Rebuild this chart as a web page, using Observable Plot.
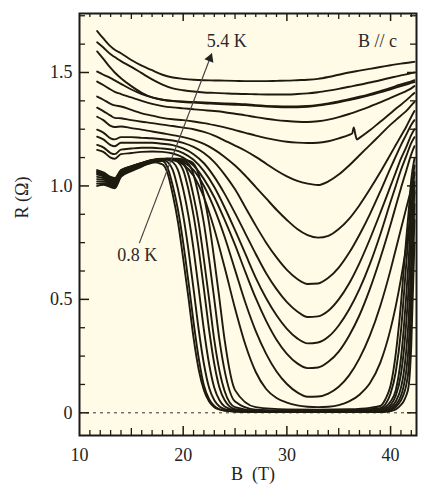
<!DOCTYPE html>
<html><head><meta charset="utf-8">
<script src="https://cdn.jsdelivr.net/npm/d3@7"></script>
<script src="https://cdn.jsdelivr.net/npm/@observablehq/plot@0.6"></script>
<style>
html,body{margin:0;padding:0;background:#fff;}
#chart{width:422px;height:484px;overflow:hidden;}
</style></head><body><div id="chart"></div>
<script>
// ---- data: R (ohm) vs B (tesla), curves from 5.4 K (top) down to 0.8 K ----
const B_upper = [11.7, 12.3, 13.0, 13.4, 14, 15, 16, 17, 18, 19, 20, 21, 22, 23, 24, 25, 26, 27, 28, 29, 30, 31, 32, 33, 34, 35, 36, 37, 38, 39, 40, 40.5, 41, 41.5, 42, 42.3];
const r_t01 = [1.683, 1.650, 1.615, 1.600, 1.585, 1.555, 1.530, 1.510, 1.490, 1.478, 1.472, 1.468, 1.466, 1.465, 1.464, 1.463, 1.462, 1.462, 1.462, 1.463, 1.464, 1.466, 1.468, 1.472, 1.480, 1.490, 1.500, 1.508, 1.516, 1.524, 1.532, 1.536, 1.539, 1.542, 1.545, 1.547];
const r_t02 = [1.633, 1.610, 1.580, 1.568, 1.550, 1.525, 1.497, 1.470, 1.447, 1.430, 1.422, 1.416, 1.412, 1.410, 1.408, 1.406, 1.405, 1.404, 1.403, 1.403, 1.403, 1.405, 1.408, 1.413, 1.420, 1.428, 1.437, 1.446, 1.456, 1.466, 1.477, 1.482, 1.487, 1.492, 1.497, 1.500];
const r_t03 = [1.593, 1.560, 1.520, 1.500, 1.475, 1.440, 1.410, 1.390, 1.380, 1.375, 1.372, 1.370, 1.368, 1.366, 1.364, 1.362, 1.360, 1.356, 1.353, 1.351, 1.350, 1.350, 1.352, 1.357, 1.364, 1.372, 1.382, 1.393, 1.405, 1.418, 1.432, 1.440, 1.447, 1.454, 1.461, 1.466];
const r_t04 = [1.504, 1.490, 1.475, 1.465, 1.450, 1.425, 1.405, 1.390, 1.380, 1.374, 1.370, 1.367, 1.364, 1.362, 1.360, 1.358, 1.356, 1.353, 1.350, 1.348, 1.347, 1.347, 1.349, 1.354, 1.361, 1.369, 1.378, 1.388, 1.400, 1.412, 1.426, 1.433, 1.440, 1.447, 1.454, 1.458];
const r_t05 = [1.460, 1.445, 1.425, 1.415, 1.405, 1.390, 1.375, 1.362, 1.352, 1.346, 1.342, 1.338, 1.334, 1.330, 1.325, 1.318, 1.311, 1.303, 1.296, 1.290, 1.286, 1.283, 1.282, 1.285, 1.292, 1.303, 1.317, 1.333, 1.350, 1.368, 1.388, 1.398, 1.408, 1.418, 1.430, 1.440];
const r_t07 = [1.345, 1.330, 1.310, 1.300, 1.298, 1.290, 1.283, 1.277, 1.270, 1.264, 1.257, 1.250, 1.238, 1.222, 1.200, 1.178, 1.155, 1.128, 1.098, 1.068, 1.042, 1.022, 1.010, 1.004, 1.020, 1.050, 1.090, 1.135, 1.180, 1.225, 1.270, 1.290, 1.310, 1.330, 1.355, 1.370];
const r_t08 = [1.305, 1.290, 1.265, 1.260, 1.262, 1.255, 1.248, 1.240, 1.232, 1.224, 1.215, 1.203, 1.185, 1.160, 1.128, 1.090, 1.045, 0.995, 0.945, 0.895, 0.850, 0.810, 0.783, 0.772, 0.780, 0.810, 0.855, 0.915, 0.985, 1.060, 1.140, 1.180, 1.220, 1.260, 1.305, 1.330];
const r_t09 = [1.248, 1.235, 1.210, 1.205, 1.215, 1.215, 1.212, 1.210, 1.206, 1.200, 1.190, 1.172, 1.145, 1.105, 1.050, 0.985, 0.905, 0.825, 0.750, 0.685, 0.630, 0.590, 0.568, 0.570, 0.595, 0.640, 0.705, 0.785, 0.875, 0.975, 1.080, 1.130, 1.180, 1.225, 1.270, 1.290];
const r_t10 = [1.217, 1.205, 1.180, 1.175, 1.190, 1.190, 1.190, 1.190, 1.186, 1.180, 1.165, 1.140, 1.100, 1.040, 0.965, 0.880, 0.790, 0.700, 0.615, 0.545, 0.488, 0.447, 0.422, 0.425, 0.450, 0.500, 0.570, 0.660, 0.765, 0.880, 1.000, 1.060, 1.120, 1.170, 1.225, 1.250];
const r_t11 = [1.181, 1.170, 1.145, 1.140, 1.160, 1.165, 1.168, 1.168, 1.165, 1.160, 1.145, 1.115, 1.065, 0.995, 0.905, 0.805, 0.700, 0.595, 0.505, 0.430, 0.370, 0.328, 0.306, 0.310, 0.335, 0.385, 0.455, 0.545, 0.655, 0.785, 0.930, 1.000, 1.070, 1.130, 1.190, 1.215];
const r_t12 = [1.159, 1.150, 1.125, 1.120, 1.140, 1.145, 1.150, 1.152, 1.150, 1.143, 1.125, 1.090, 1.030, 0.950, 0.850, 0.740, 0.620, 0.505, 0.405, 0.322, 0.260, 0.218, 0.197, 0.200, 0.225, 0.270, 0.340, 0.430, 0.545, 0.680, 0.830, 0.910, 0.990, 1.065, 1.140, 1.175];
const r_t13 = [1.070, 1.060, 1.040, 1.035, 1.070, 1.087, 1.102, 1.115, 1.120, 1.118, 1.105, 1.070, 1.000, 0.900, 0.775, 0.630, 0.485, 0.360, 0.260, 0.182, 0.127, 0.090, 0.071, 0.072, 0.085, 0.115, 0.165, 0.240, 0.340, 0.470, 0.630, 0.720, 0.810, 0.900, 0.990, 1.050];
const r_t14 = [1.065, 1.057, 1.035, 1.030, 1.068, 1.086, 1.101, 1.114, 1.118, 1.115, 1.095, 1.045, 0.950, 0.810, 0.640, 0.460, 0.300, 0.180, 0.105, 0.065, 0.045, 0.033, 0.027, 0.025, 0.027, 0.034, 0.050, 0.080, 0.130, 0.220, 0.370, 0.470, 0.590, 0.730, 0.880, 0.970];

// curve with the glitch near 36.5 T
const B_spike = [11.7, 12.3, 13.0, 13.4, 14, 15, 16, 17, 18, 19, 20, 21, 22, 23, 24, 25, 26, 27, 28, 29, 30, 31, 32, 33, 34, 35, 36, 36.3, 36.45, 36.6, 36.75, 37, 38, 39, 40, 40.5, 41, 41.5, 42, 42.3];
const r_t06 = [1.394, 1.380, 1.362, 1.355, 1.350, 1.335, 1.320, 1.310, 1.300, 1.294, 1.290, 1.284, 1.277, 1.268, 1.258, 1.246, 1.234, 1.222, 1.211, 1.202, 1.195, 1.191, 1.189, 1.190, 1.197, 1.210, 1.225, 1.232, 1.258, 1.228, 1.205, 1.212, 1.245, 1.283, 1.320, 1.340, 1.358, 1.377, 1.398, 1.410];

// lowest-temperature curves (zero resistance region)
const B_lower = [11.7, 12.3, 13.0, 13.4, 14, 15, 16, 17, 18, 18.5, 19, 19.5, 20, 20.5, 21, 21.5, 22, 22.5, 23, 23.5, 24, 25, 27, 30, 33, 36, 38, 39, 39.5, 40, 40.5, 41, 41.25, 41.5, 41.75, 42, 42.3];
const r_l01 = [1.00, 1.005, 0.995, 0.99, 1.04, 1.065, 1.085, 1.105, 1.095, 1.055, 0.96, 0.84, 0.68, 0.51, 0.33, 0.19, 0.10, 0.05, 0.025, 0.015, 0.01, 0.006, 0.004, 0.003, 0.003, 0.003, 0.003, 0.003, 0.004, 0.008, 0.015, 0.035, 0.05, 0.075, 0.12, 0.30, 0.75];
const r_l02 = [1.01, 1.012, 1.0, 0.995, 1.045, 1.068, 1.087, 1.102, 1.11, 1.08, 1.0, 0.894, 0.75, 0.58, 0.40, 0.24, 0.12, 0.06, 0.03, 0.015, 0.01, 0.006, 0.004, 0.003, 0.003, 0.004, 0.004, 0.004, 0.006, 0.012, 0.025, 0.055, 0.08, 0.12, 0.20, 0.42, 0.85];
const r_l03 = [1.02, 1.02, 1.005, 1.0, 1.05, 1.07, 1.09, 1.104, 1.115, 1.105, 1.07, 0.985, 0.87, 0.72, 0.545, 0.365, 0.215, 0.11, 0.055, 0.028, 0.016, 0.008, 0.005, 0.004, 0.004, 0.005, 0.005, 0.005, 0.008, 0.017, 0.035, 0.075, 0.115, 0.18, 0.30, 0.55, 0.92];
const r_l04 = [1.03, 1.028, 1.01, 1.005, 1.053, 1.073, 1.092, 1.106, 1.118, 1.115, 1.105, 1.07, 0.985, 0.87, 0.72, 0.545, 0.365, 0.215, 0.11, 0.055, 0.028, 0.012, 0.006, 0.005, 0.005, 0.006, 0.007, 0.007, 0.012, 0.025, 0.05, 0.11, 0.17, 0.27, 0.42, 0.67, 0.98];
const r_l05 = [1.04, 1.035, 1.015, 1.01, 1.056, 1.076, 1.094, 1.108, 1.118, 1.118, 1.115, 1.105, 1.07, 0.985, 0.87, 0.72, 0.545, 0.365, 0.215, 0.11, 0.055, 0.016, 0.008, 0.006, 0.006, 0.007, 0.009, 0.010, 0.018, 0.035, 0.075, 0.17, 0.26, 0.39, 0.56, 0.79, 1.02];
const r_l06 = [1.05, 1.042, 1.02, 1.015, 1.06, 1.079, 1.096, 1.11, 1.118, 1.12, 1.118, 1.112, 1.098, 1.05, 0.955, 0.835, 0.675, 0.5, 0.32, 0.185, 0.095, 0.025, 0.01, 0.008, 0.008, 0.009, 0.012, 0.014, 0.026, 0.05, 0.10, 0.24, 0.36, 0.51, 0.68, 0.89, 1.06];
const r_l07 = [1.055, 1.048, 1.025, 1.02, 1.063, 1.082, 1.098, 1.112, 1.118, 1.12, 1.12, 1.117, 1.112, 1.098, 1.05, 0.955, 0.835, 0.675, 0.5, 0.32, 0.185, 0.05, 0.014, 0.01, 0.01, 0.012, 0.016, 0.020, 0.038, 0.085, 0.18, 0.36, 0.50, 0.65, 0.80, 0.97, 1.09];
const r_l08 = [1.06, 1.053, 1.03, 1.025, 1.066, 1.085, 1.10, 1.114, 1.118, 1.12, 1.12, 1.12, 1.117, 1.112, 1.098, 1.05, 0.955, 0.835, 0.675, 0.5, 0.32, 0.1, 0.025, 0.015, 0.014, 0.016, 0.022, 0.030, 0.06, 0.12, 0.26, 0.48, 0.62, 0.76, 0.89, 1.03, 1.12];

// axis tick labels
const xTickLabels = [10, 20, 30, 40];
const yTickLabels = [0, 0.5, 1.0, 1.5];
const yLabel = "R (Ω)";
const xLabel = "B  (T)";

// annotations
const noteText = ["5.4 K", "B // c", "0.8 K"];
const noteB = [24.2, 38.75, 15.58];
const noteR = [1.637, 1.637, 0.695];
const arrowB = [15.77, 22.76];
const arrowR = [0.748, 1.584];

// ---- build table ----
const rows = [];
function addSeries(id, bs, rs) { bs.forEach((b, i) => rows.push({id, B: b, R: rs[i]})); }
[["t01", r_t01], ["t02", r_t02], ["t03", r_t03], ["t04", r_t04], ["t05", r_t05], ["t07", r_t07], ["t08", r_t08],
 ["t09", r_t09], ["t10", r_t10], ["t11", r_t11], ["t12", r_t12], ["t13", r_t13], ["t14", r_t14]]
  .forEach(([id, r]) => addSeries(id, B_upper, r));
addSeries("t06", B_spike, r_t06);
[["l01", r_l01], ["l02", r_l02], ["l03", r_l03], ["l04", r_l04], ["l05", r_l05], ["l06", r_l06], ["l07", r_l07], ["l08", r_l08]]
  .forEach(([id, r]) => addSeries(id, B_lower, r));

const notes = noteText.map((t, i) => ({t, B: noteB[i], R: noteR[i]}));
const arrow = [{B1: arrowB[0], R1: arrowR[0], B2: arrowB[1], R2: arrowR[1]}];

const xMinor = d3.range(11, 43).filter(d => d % 5 !== 0);
const xMid = [15, 25, 35];
const xMajor = [20, 30, 40];
const yMinor = d3.range(1, 15).map(k => k * 0.125).filter(d => d % 0.5 !== 0);
const yMajor = [0, 0.5, 1.0, 1.5];

const FW = 416 - 79, FH = 435 - 13;
const ink = "#1d1b10";

const chart = Plot.plot({
  width: 422, height: 484,
  marginLeft: 79, marginRight: 6, marginTop: 13, marginBottom: 49,
  x: {domain: [10, 42.5]},
  y: {domain: [-0.1, 1.76]},
  style: {fontFamily: "'Liberation Serif', 'Times New Roman', serif", fontSize: "18px", color: "#222", background: "#fff", overflow: "visible"},
  marks: [
    Plot.frame({fill: "#fffbe6", stroke: null}),
    Plot.ruleY([0], {stroke: "#333", strokeWidth: 1, strokeDasharray: "3,4"}),
    Plot.line(rows, {x: "B", y: "R", z: "id", curve: "monotone-x", stroke: ink, strokeWidth: 1.9}),
    // inward ticks, bottom / top
    Plot.tickX(xMinor, {x: d => d, insetTop: FH - 5, stroke: ink, strokeWidth: 1.3}),
    Plot.tickX(xMid, {x: d => d, insetTop: FH - 7, stroke: ink, strokeWidth: 1.3}),
    Plot.tickX(xMajor, {x: d => d, insetTop: FH - 9, stroke: ink, strokeWidth: 1.5}),
    Plot.tickX(xMinor, {x: d => d, insetBottom: FH - 4, stroke: ink, strokeWidth: 1.3}),
    Plot.tickX(xMid, {x: d => d, insetBottom: FH - 6, stroke: ink, strokeWidth: 1.3}),
    Plot.tickX(xMajor, {x: d => d, insetBottom: FH - 8, stroke: ink, strokeWidth: 1.5}),
    // inward ticks, left / right
    Plot.tickY(yMinor, {y: d => d, insetRight: FW - 6, stroke: ink, strokeWidth: 1.3}),
    Plot.tickY(yMajor, {y: d => d, insetRight: FW - 10, stroke: ink, strokeWidth: 1.5}),
    Plot.tickY(yMinor, {y: d => d, insetLeft: FW - 6, stroke: ink, strokeWidth: 1.3}),
    Plot.tickY(yMajor, {y: d => d, insetLeft: FW - 9, stroke: ink, strokeWidth: 1.5}),
    Plot.axisX({ticks: xTickLabels, tickSize: 0, tickPadding: 13, label: null, fontSize: 18}),
    Plot.axisY({ticks: yTickLabels, tickSize: 0, tickPadding: 7, label: null, fontSize: 18,
      tickFormat: d => d === 0 ? "0" : d.toFixed(1)}),
    Plot.text([yLabel], {text: d => d, frameAnchor: "left", rotate: -90, dx: -57, dy: -6, fontSize: 18, fill: "#222"}),
    Plot.text([xLabel], {text: d => d, frameAnchor: "bottom", lineAnchor: "middle", dx: 5, dy: 39, fontSize: 18, fill: "#222"}),
    Plot.text(notes, {x: "B", y: "R", text: "t", fontSize: 18, fill: "#2a2a2a"}),
    Plot.link(arrow, {x1: "B1", y1: "R1", x2: "B2", y2: "R2", stroke: "#444", strokeWidth: 1.2}),
    Plot.dot(arrow, {x: "B2", y: "R2", symbol: "triangle", r: 3.6, rotate: 21, fill: "#222", stroke: null, dx: -1.9, dy: 5}),
    Plot.frame({stroke: "#1a1a1a", strokeWidth: 2})
  ]
});
document.getElementById("chart").appendChild(chart);
</script>
</body></html>
